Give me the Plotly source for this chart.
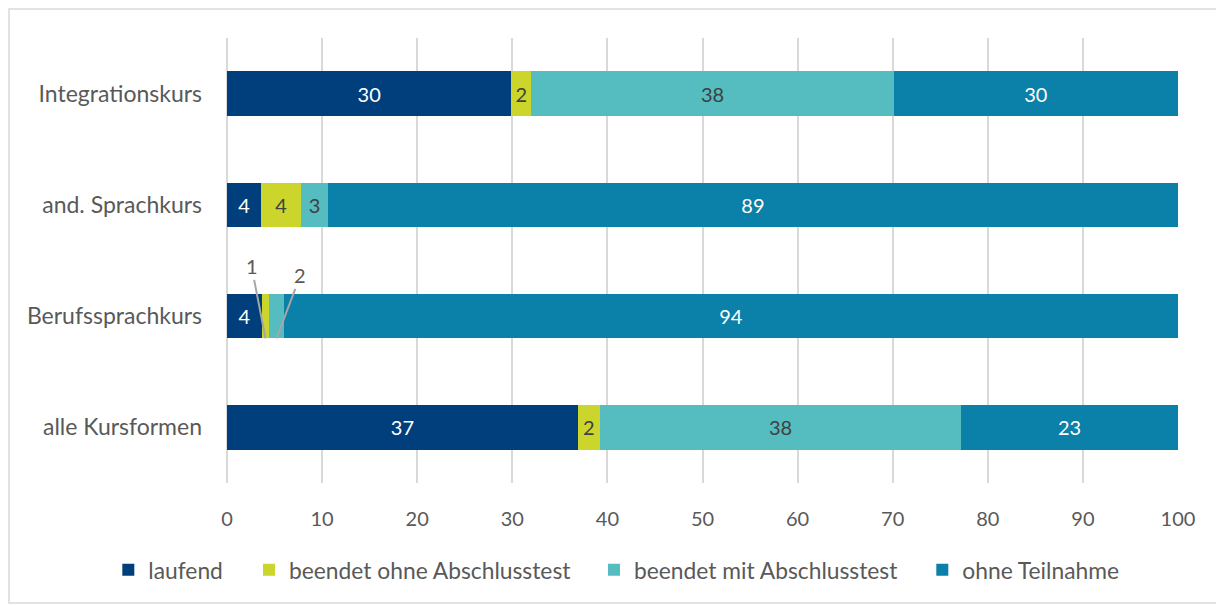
import plotly.graph_objects as go

categories = ["Integrationskurs", "and. Sprachkurs", "Berufssprachkurs", "alle Kursformen"]
laufend = [29.9, 3.6, 3.7, 36.9]
ohne_test = [2.1, 4.2, 0.7, 2.3]
mit_test = [38.1, 2.8, 1.6, 38.0]
ohne_teilnahme = [29.9, 89.4, 94.0, 22.8]

series = [
    ("laufend", laufend, "#003f7c", "#ffffff"),
    ("beendet ohne Abschlusstest", ohne_test, "#ccd52b", "#404040"),
    ("beendet mit Abschlusstest", mit_test, "#55bcc0", "#404040"),
    ("ohne Teilnahme", ohne_teilnahme, "#0b80a8", "#ffffff"),
]
legend_x = [0.0825, 0.1982, 0.4819, 0.7519]

FONT = "Lato"
fig = go.Figure()
legend_ids = ["legend", "legend2", "legend3", "legend4"]
for i, (name, vals, color, tcolor) in enumerate(series):
    texts = [f"{round(v)}" if v >= 2 else "" for v in vals]
    fig.add_trace(go.Bar(
        name=name, y=categories, x=vals, orientation="h",
        marker=dict(color=color, line=dict(width=0)),
        text=texts, textposition="inside", insidetextanchor="middle",
        textfont=dict(color=tcolor, size=20, family=FONT),
        hoverinfo="skip", legend=legend_ids[i],
    ))

# callouts for small segments of Berufssprachkurs
idx = 2
cum = 0.0
callouts = []
for k, (name, vals, color, tcolor) in enumerate(series):
    v = vals[idx]
    if v < 2:
        callouts.append((cum + v / 2, f"{round(v)}"))
    cum += v
offsets = [(-14, -72), (24, -63)]
for (xc, label), (ax, ay) in zip(callouts, offsets):
    fig.add_annotation(x=xc, y=idx + 0.2, xref="x", yref="y", text=label,
                       showarrow=True, arrowhead=0, arrowwidth=2, arrowcolor="#a6a6a6",
                       ax=ax, ay=ay, font=dict(size=20, color="#595959", family=FONT))

fig.add_shape(type="rect", xref="paper", yref="paper",
              x0=-0.2292, x1=1.0452, y0=-0.2697, y1=1.0652,
              line=dict(color="#d9d9d9", width=1.5), fillcolor="rgba(0,0,0,0)", layer="below")

legend_common = dict(orientation="h", xref="container", xanchor="left",
                     yref="container", y=0.0586, yanchor="middle",
                     font=dict(size=22.8, color="#595959", family=FONT),
                     bgcolor="rgba(0,0,0,0)")
layout_legends = {lid: dict(legend_common, x=lx) for lid, lx in zip(legend_ids, legend_x)}

fig.update_layout(
    barmode="stack", bargap=0.6,
    width=1216, height=597,
    margin=dict(l=219, r=46, t=30, b=122),
    paper_bgcolor="white", plot_bgcolor="white",
    font=dict(family=FONT, size=20, color="#595959"),
    uniformtext=dict(minsize=20, mode="show"),
    showlegend=True,
    **layout_legends,
)
fig.update_xaxes(range=[0, 100], dtick=10, showgrid=True, gridcolor="#d9d9d9", gridwidth=2,
                 zeroline=True, zerolinecolor="#d9d9d9", zerolinewidth=2,
                 ticks="outside", ticklen=18, tickcolor="rgba(0,0,0,0)",
                 tickfont=dict(size=20, color="#595959"), showline=False)
fig.update_yaxes(autorange="reversed", showgrid=False, ticks="", ticklabelstandoff=24,
                 tickfont=dict(size=23, color="#595959"), showline=False)

fig.write_html("out.html")
